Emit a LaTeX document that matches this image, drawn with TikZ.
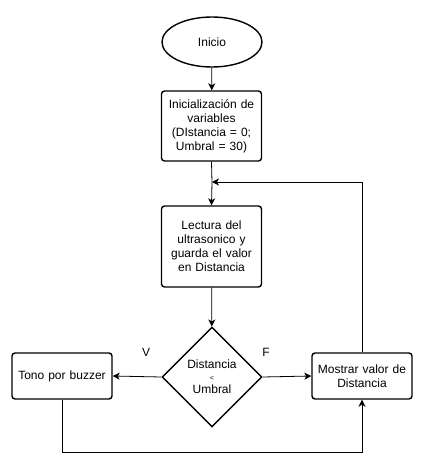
\documentclass[tikz,border=0pt]{standalone}
\usepackage{fontspec}
\setmainfont{Liberation Sans}
\usetikzlibrary{shapes.geometric,arrows.meta}
\begin{document}
\begin{tikzpicture}[x=1pt,y=-1pt,
  txt/.style={font=\fontsize{12}{14}\selectfont, align=center},
  box/.style={txt, draw, line width=1.4pt, rounded corners=3pt, minimum width=100pt, text width=94pt, inner sep=0pt},
  arr/.style={line width=0.8pt, -{Stealth[length=7pt,width=7pt,inset=2pt]}},
  ln/.style={line width=0.8pt}]
\useasboundingbox (0,0) rectangle (422,470);
\node[txt, ellipse, draw, line width=1.4pt, minimum width=100pt, minimum height=50pt, inner sep=0pt] (start) at (212,42) {Inicio};
\node[box, minimum height=70pt] (init) at (211.5,126) {Inicialización de\\variables\\(DIstancia = 0;\\Umbral = 30)};
\node[box, minimum height=81pt] (read) at (211.5,246.5) {Lectura del\\ultrasonico y\\guarda el valor\\en Distancia};
\node[txt, diamond, aspect=1, draw, line width=1.4pt, minimum size=100pt, inner sep=0pt] (dec) at (212,377) {Distancia\\[-2pt]{\fontsize{7}{8}\selectfont <}\\[-1pt]Umbral};
\node[box, minimum height=46pt] (tono) at (62,376) {Tono por buzzer};
\node[box, minimum height=46pt] (show) at (362,376) {Mostrar valor de\\Distancia};
\node[txt] (lv) at (146,352) {V};
\node[txt] (lf) at (266,352) {F};
\coordinate (j) at (212,182);
\coordinate (b) at (62,452);
\draw[arr] (start) -- (init);
\draw[ln] (init.south) -- (j);
\draw[arr] (j) -- (read.north);
\draw[arr] (read) -- (dec);
\draw[arr] (dec.west) -- (tono.east);
\draw[arr] (dec.east) -- (show.west);
\draw[arr] (show.north) |- (j);
\draw[arr] (tono.south) -- (b) -| (show.south);
\end{tikzpicture}
\end{document}
